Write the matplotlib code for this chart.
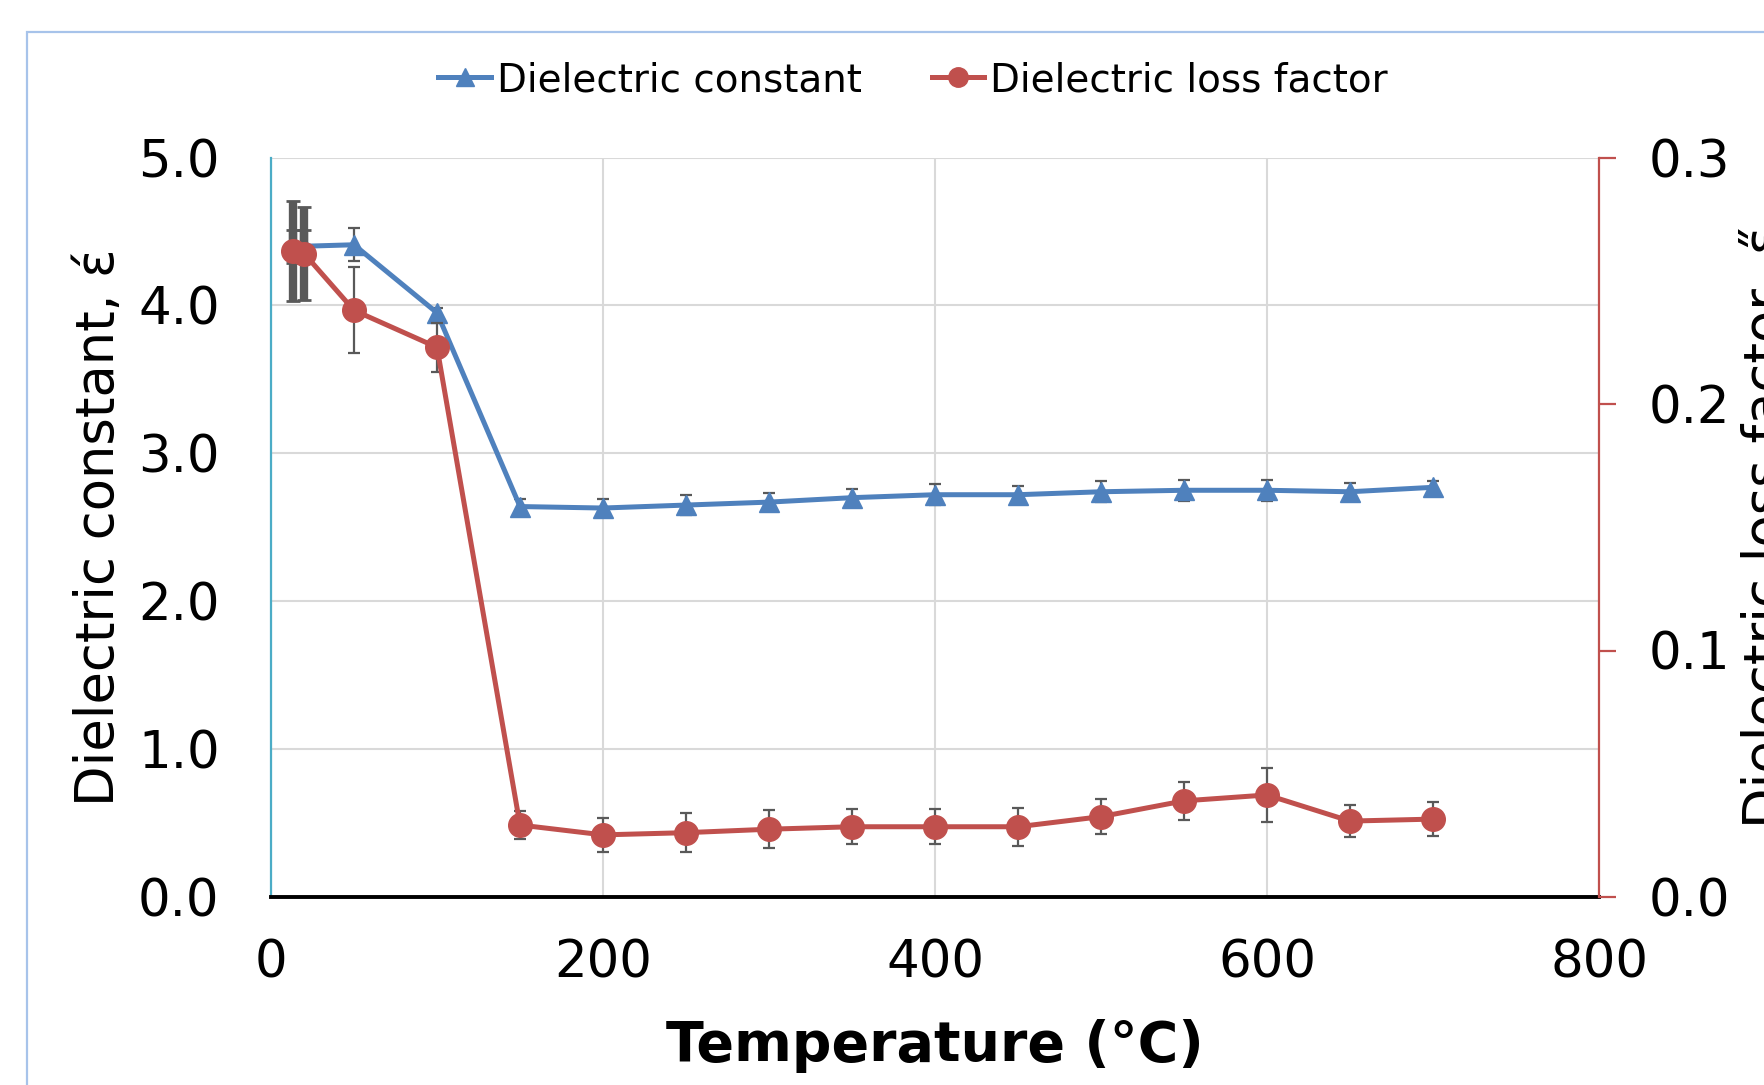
import matplotlib
matplotlib.use('Agg')
import matplotlib.pyplot as plt
from matplotlib.lines import Line2D
from matplotlib.patches import Rectangle

# temperature (deg C) and measured values
temperature = [13, 20, 50, 100, 150, 200, 250, 300, 350, 400, 450, 500, 550, 600, 650, 700]
diel_const = [4.40, 4.40, 4.41, 3.95, 2.64, 2.63, 2.65, 2.67, 2.70, 2.72, 2.72, 2.74, 2.75, 2.75, 2.74, 2.77]
diel_const_err = [0.11, 0.11, 0.11, 0.03, 0.05, 0.06, 0.07, 0.06, 0.06, 0.07, 0.06, 0.07, 0.07, 0.07, 0.06, 0.04]
loss_factor = [0.262, 0.261, 0.238, 0.223, 0.0292, 0.0252, 0.0261, 0.0275, 0.0285, 0.0285,
               0.0285, 0.0326, 0.0390, 0.0414, 0.0308, 0.0316]
loss_factor_err = [0.0203, 0.0190, 0.0174, 0.0100, 0.0058, 0.0069, 0.0078, 0.0077, 0.0072, 0.0072,
                   0.0077, 0.0072, 0.0076, 0.0110, 0.0064, 0.0069]

x_ticks = [0, 200, 400, 600, 800]
left_ticks = [0.0, 1.0, 2.0, 3.0, 4.0, 5.0]
right_ticks = [0.0, 0.1, 0.2, 0.3]

blue = '#4F81BD'
red = '#C0504D'
err_col = '#595959'

plt.rcParams['font.family'] = ['DejaVu Sans']

fig = plt.figure(figsize=(17.64, 10.85), dpi=100)
W, H = 1764, 1085

# outer chart frame (partly cropped in the original)
fig.patches.append(Rectangle((27 / W, -0.1), 1.2, 1 - 32 / H + 0.1, transform=fig.transFigure,
                             fill=False, edgecolor='#A7C3EA', lw=1.6))

ax = fig.add_axes([271 / W, 1 - 897 / H, (1599 - 271) / W, (897 - 157.5) / H])
ax2 = ax.twinx()

# room temperature points have heavier error bars in the original
n0 = 2
ax.errorbar(temperature[:n0], diel_const[:n0], yerr=diel_const_err[:n0], fmt='none', ecolor=err_col,
            elinewidth=6, capsize=5, capthick=2, zorder=2)
ax.errorbar(temperature[n0:], diel_const[n0:], yerr=diel_const_err[n0:], fmt='none', ecolor=err_col,
            elinewidth=1.6, capsize=4.5, capthick=1.6, zorder=2)
ax.plot(temperature, diel_const, color=blue, lw=3.6, marker='^', markersize=15, zorder=3)

ax2.errorbar(temperature[:n0], loss_factor[:n0], yerr=loss_factor_err[:n0], fmt='none', ecolor=err_col,
             elinewidth=6, capsize=5, capthick=2, zorder=2)
ax2.errorbar(temperature[n0:], loss_factor[n0:], yerr=loss_factor_err[n0:], fmt='none', ecolor=err_col,
             elinewidth=1.6, capsize=4.5, capthick=1.6, zorder=2)
ax2.plot(temperature, loss_factor, color=red, lw=3.6, marker='o', markersize=17, zorder=3)

ax.set_xlim(0, 800)
ax.set_ylim(0, 5)
ax2.set_ylim(0, 0.3)
ax.set_xticks(x_ticks)
ax.set_yticks(left_ticks)
ax.set_yticklabels([f'{v:.1f}' for v in left_ticks])
ax2.set_yticks(right_ticks)
ax2.set_yticklabels([f'{v:.1f}' for v in right_ticks])

ax.grid(True, color='#D9D9D9', lw=1.5)
ax.set_axisbelow(True)

for s in ['top', 'right']:
    ax.spines[s].set_visible(False)
ax.spines['left'].set_color('#4BACC6')
ax.spines['left'].set_linewidth(1.6)
ax.spines['bottom'].set_color('black')
ax.spines['bottom'].set_linewidth(2.8)
for s in ['top', 'left', 'bottom']:
    ax2.spines[s].set_visible(False)
ax2.spines['right'].set_color(red)
ax2.spines['right'].set_linewidth(1.6)

ax.tick_params(axis='x', length=0, labelsize=37, pad=30)
ax.tick_params(axis='y', length=0, labelsize=37, pad=37)
ax2.tick_params(axis='y', direction='out', length=12, width=1.6, color=red, labelsize=37, pad=24)

ax.set_xlabel('Temperature (°C)', fontsize=40, fontweight='bold', labelpad=22)

fig.text(73 / W, 1 - 527 / H, 'Dielectric constant, έ', rotation=90, ha='left', va='center', fontsize=38)
fig.text(1741 / W, 1 - 527 / H, 'Dielectric loss factor, ε\u030B', rotation=90, ha='left', va='center',
         fontsize=38)

handles = [Line2D([], [], color=blue, lw=3.6, marker='^', markersize=13),
           Line2D([], [], color=red, lw=3.6, marker='o', markersize=14)]
fig.legend(handles, ['Dielectric constant', 'Dielectric loss factor'], loc='center',
           bbox_to_anchor=(913 / W, 1 - 80 / H), ncol=2, frameon=False, fontsize=28,
           handlelength=1.35, handletextpad=0.15, columnspacing=1.8)

fig.savefig('out.png', dpi=100)
